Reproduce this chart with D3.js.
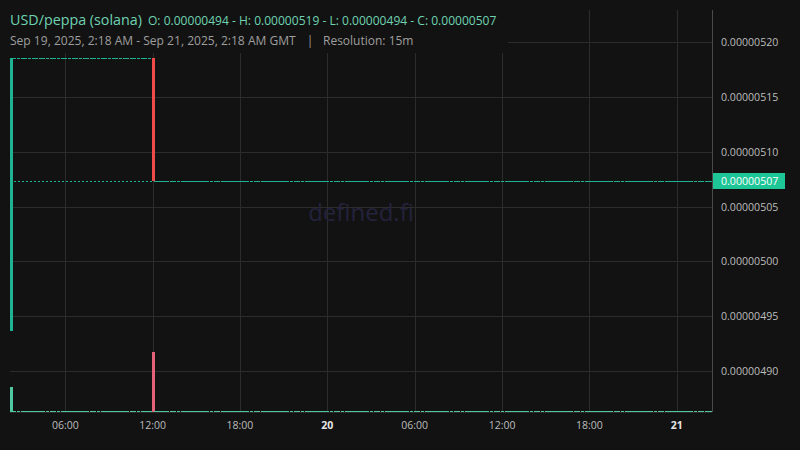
<!DOCTYPE html>
<html>
<head>
<meta charset="utf-8">
<script src="https://cdn.jsdelivr.net/npm/d3@7/dist/d3.min.js"></script>
<style>
  html, body { margin: 0; padding: 0; background: #121212; }
  svg { display: block; }
  text { font-family: "Open Sans", "Noto Sans", sans-serif; }
</style>
</head>
<body>
<svg id="chart" width="800" height="450"></svg>
<script>
// ---------------- DATA ----------------
const pairTitle = "USD/peppa (solana)";
const ohlcLabel = "O: 0.00000494 - H: 0.00000519 - L: 0.00000494 - C: 0.00000507";
const rangeLabel = "Sep 19, 2025, 2:18 AM - Sep 21, 2025, 2:18 AM GMT";
const resolutionLabel = "Resolution: 15m";
const watermark = "defined.fi";

// 15-minute candles starting Sep 19, 2025 02:15 UTC (prices in units of 1e-9 USD)
const candleStart = "2025-09-19T02:15:00Z";
const candleMinutes = 15;

const opens = [
4936.5,5185.4,5185.4,5185.4,5185.4,5185.4,5185.4,5185.4,5185.4,5185.4,
5185.4,5185.4,5185.4,5185.4,5185.4,5185.4,5185.4,5185.4,5185.4,5185.4,
5185.4,5185.4,5185.4,5185.4,5185.4,5185.4,5185.4,5185.4,5185.4,5185.4,
5185.4,5185.4,5185.4,5185.4,5185.4,5185.4,5185.4,5185.4,5185.4,5185.4,
5073.1,5073.1,5073.1,5073.1,5073.1,5073.1,5073.1,5073.1,5073.1,5073.1,
5073.1,5073.1,5073.1,5073.1,5073.1,5073.1,5073.1,5073.1,5073.1,5073.1,
5073.1,5073.1,5073.1,5073.1,5073.1,5073.1,5073.1,5073.1,5073.1,5073.1,
5073.1,5073.1,5073.1,5073.1,5073.1,5073.1,5073.1,5073.1,5073.1,5073.1,
5073.1,5073.1,5073.1,5073.1,5073.1,5073.1,5073.1,5073.1,5073.1,5073.1,
5073.1,5073.1,5073.1,5073.1,5073.1,5073.1,5073.1,5073.1,5073.1,5073.1,
5073.1,5073.1,5073.1,5073.1,5073.1,5073.1,5073.1,5073.1,5073.1,5073.1,
5073.1,5073.1,5073.1,5073.1,5073.1,5073.1,5073.1,5073.1,5073.1,5073.1,
5073.1,5073.1,5073.1,5073.1,5073.1,5073.1,5073.1,5073.1,5073.1,5073.1,
5073.1,5073.1,5073.1,5073.1,5073.1,5073.1,5073.1,5073.1,5073.1,5073.1,
5073.1,5073.1,5073.1,5073.1,5073.1,5073.1,5073.1,5073.1,5073.1,5073.1,
5073.1,5073.1,5073.1,5073.1,5073.1,5073.1,5073.1,5073.1,5073.1,5073.1,
5073.1,5073.1,5073.1,5073.1,5073.1,5073.1,5073.1,5073.1,5073.1,5073.1,
5073.1,5073.1,5073.1,5073.1,5073.1,5073.1,5073.1,5073.1,5073.1,5073.1,
5073.1,5073.1,5073.1,5073.1,5073.1,5073.1,5073.1,5073.1,5073.1,5073.1,
5073.1,5073.1,5073.1
];

const closes = [
5185.4,5185.4,5185.4,5185.4,5185.4,5185.4,5185.4,5185.4,5185.4,5185.4,
5185.4,5185.4,5185.4,5185.4,5185.4,5185.4,5185.4,5185.4,5185.4,5185.4,
5185.4,5185.4,5185.4,5185.4,5185.4,5185.4,5185.4,5185.4,5185.4,5185.4,
5185.4,5185.4,5185.4,5185.4,5185.4,5185.4,5185.4,5185.4,5185.4,5073.1,
5073.1,5073.1,5073.1,5073.1,5073.1,5073.1,5073.1,5073.1,5073.1,5073.1,
5073.1,5073.1,5073.1,5073.1,5073.1,5073.1,5073.1,5073.1,5073.1,5073.1,
5073.1,5073.1,5073.1,5073.1,5073.1,5073.1,5073.1,5073.1,5073.1,5073.1,
5073.1,5073.1,5073.1,5073.1,5073.1,5073.1,5073.1,5073.1,5073.1,5073.1,
5073.1,5073.1,5073.1,5073.1,5073.1,5073.1,5073.1,5073.1,5073.1,5073.1,
5073.1,5073.1,5073.1,5073.1,5073.1,5073.1,5073.1,5073.1,5073.1,5073.1,
5073.1,5073.1,5073.1,5073.1,5073.1,5073.1,5073.1,5073.1,5073.1,5073.1,
5073.1,5073.1,5073.1,5073.1,5073.1,5073.1,5073.1,5073.1,5073.1,5073.1,
5073.1,5073.1,5073.1,5073.1,5073.1,5073.1,5073.1,5073.1,5073.1,5073.1,
5073.1,5073.1,5073.1,5073.1,5073.1,5073.1,5073.1,5073.1,5073.1,5073.1,
5073.1,5073.1,5073.1,5073.1,5073.1,5073.1,5073.1,5073.1,5073.1,5073.1,
5073.1,5073.1,5073.1,5073.1,5073.1,5073.1,5073.1,5073.1,5073.1,5073.1,
5073.1,5073.1,5073.1,5073.1,5073.1,5073.1,5073.1,5073.1,5073.1,5073.1,
5073.1,5073.1,5073.1,5073.1,5073.1,5073.1,5073.1,5073.1,5073.1,5073.1,
5073.1,5073.1,5073.1,5073.1,5073.1,5073.1,5073.1,5073.1,5073.1,5073.1,
5073.1,5073.1,5073.1
];

// traded volume per candle (USD)
const volumes = [
500,14,14,14,14,14,14,14,14,14,
14,14,14,14,14,14,14,14,14,14,
14,14,14,14,14,14,14,14,14,14,
14,14,14,14,14,14,14,14,14,1200,
14,14,14,14,14,14,14,14,14,14,
14,14,14,14,14,14,14,14,14,14,
14,14,14,14,14,14,14,14,14,14,
14,14,14,14,14,14,14,14,14,14,
14,14,14,14,14,14,14,14,14,14,
14,14,14,14,14,14,14,14,14,14,
14,14,14,14,14,14,14,14,14,14,
14,14,14,14,14,14,14,14,14,14,
14,14,14,14,14,14,14,14,14,14,
14,14,14,14,14,14,14,14,14,14,
14,14,14,14,14,14,14,14,14,14,
14,14,14,14,14,14,14,14,14,14,
14,14,14,14,14,14,14,14,14,14,
14,14,14,14,14,14,14,14,14,14,
14,14,14,14,14,14,14,14,14,14,
14,14,14
];

const priceTicks = [4900, 4950, 5000, 5050, 5100, 5150, 5200];
const timeTicks = ["2025-09-19T06:00:00Z","2025-09-19T12:00:00Z","2025-09-19T18:00:00Z","2025-09-20T00:00:00Z",
                   "2025-09-20T06:00:00Z","2025-09-20T12:00:00Z","2025-09-20T18:00:00Z","2025-09-21T00:00:00Z"];
const timeTickLabels = ["06:00","12:00","18:00","20","06:00","12:00","18:00","21"];
const timeTickBold = [false,false,false,true,false,false,false,true];
const viewStart = "2025-09-19T02:12:00Z";
const viewEnd = "2025-09-21T02:25:30Z";

// ---------------- STYLE ----------------
const C = {
  bg: "#121212", grid: "#2c2c2c", axisLine: "#4a4a4a", axisText: "#bdbdbd",
  up: "#1db393", down: "#ef4b4b", volUp: "#4fc8a2", volDown: "#e2627a",
  title: "#6fd3b1", sub: "#9e9e9e", label: "#1ec597", watermark: "#24223c", bold: "#e6e6e6"
};
const pane = { left: 10, right: 712, top: 10, bottom: 412 };

// ---------------- BUILD ----------------
const t0 = new Date(candleStart).getTime();
const candles = closes.map((c, i) => ({
  t: new Date(t0 + i * candleMinutes * 60000),
  o: opens[i], c: c, h: Math.max(opens[i], c), l: Math.min(opens[i], c), v: volumes[i]
}));

const svg = d3.select("#chart");
svg.append("rect").attr("width", 800).attr("height", 450).attr("fill", C.bg);

const x = d3.scaleUtc().domain([new Date(viewStart), new Date(viewEnd)]).range([pane.left, pane.right]);
const y = d3.scaleLinear().domain([4862.6, 5238.6]).range([412, 0]);
const yv = d3.scaleLinear().domain([0, d3.max(volumes)]).range([412, 352]);

const g = svg.append("g").attr("shape-rendering", "crispEdges");

// grid
g.selectAll(".hg").data(priceTicks).join("line")
  .attr("x1", pane.left).attr("x2", pane.right)
  .attr("y1", d => Math.round(y(d)) + 0.5).attr("y2", d => Math.round(y(d)) + 0.5)
  .attr("stroke", C.grid);
g.selectAll(".vg").data(timeTicks).join("line")
  .attr("x1", d => Math.round(x(new Date(d))) + 0.5).attr("x2", d => Math.round(x(new Date(d))) + 0.5)
  .attr("y1", pane.top).attr("y2", pane.bottom)
  .attr("stroke", C.grid);

// bottom border
g.append("line").attr("x1", pane.left).attr("x2", pane.right).attr("y1", pane.bottom + 0.5).attr("y2", pane.bottom + 0.5)
  .attr("stroke", "#2a2a2a");

// watermark
svg.append("text").attr("x", (pane.left + pane.right) / 2).attr("y", (pane.top + pane.bottom) / 2 + 10)
  .attr("text-anchor", "middle").attr("font-size", 24).attr("fill", C.watermark).text(watermark);

// volume bars
g.selectAll(".vol").data(candles).join("rect")
  .attr("x", d => Math.round(x(d.t)) - 1).attr("width", 3)
  .attr("y", d => Math.min(Math.round(yv(d.v)), 411)).attr("height", d => 412 - Math.min(Math.round(yv(d.v)), 411))
  .attr("fill", d => d.c >= d.o ? C.volUp : C.volDown);

// volume last-value line
g.append("line").attr("x1", pane.left).attr("x2", pane.right)
  .attr("y1", 411.5).attr("y2", 411.5)
  .attr("stroke", C.volUp).attr("stroke-dasharray", "2,2");

// candles
const cg = g.append("g");
cg.selectAll(".wick").data(candles).join("rect")
  .attr("x", d => Math.round(x(d.t))).attr("width", 1)
  .attr("y", d => Math.round(y(d.h))).attr("height", d => Math.max(1, Math.round(y(d.l)) - Math.round(y(d.h))))
  .attr("fill", d => d.c >= d.o ? C.up : C.down);
cg.selectAll(".body").data(candles).join("rect")
  .attr("x", d => Math.round(x(d.t)) - 1).attr("width", 3)
  .attr("y", d => Math.round(y(Math.max(d.o, d.c))))
  .attr("height", d => Math.max(1, Math.round(y(Math.min(d.o, d.c))) - Math.round(y(Math.max(d.o, d.c)))))
  .attr("fill", d => d.c >= d.o ? C.up : C.down);

// last price line
const last = candles[candles.length - 1];
const ly = Math.round(y(last.c)) + 0.5;
g.append("line").attr("x1", pane.left).attr("x2", pane.right).attr("y1", ly).attr("y2", ly)
  .attr("stroke", C.up).attr("stroke-dasharray", "2,2");

// right axis border
g.append("line").attr("x1", pane.right + 0.5).attr("x2", pane.right + 0.5).attr("y1", pane.top).attr("y2", pane.bottom)
  .attr("stroke", C.axisLine);

// price axis labels
svg.selectAll(".pl").data(priceTicks).join("text")
  .attr("x", 721).attr("y", d => y(d) + 4)
  .attr("font-size", 10.6).attr("fill", C.axisText)
  .text(d => (d * 1e-9).toFixed(8));

// last price label
svg.append("rect").attr("x", pane.right + 1).attr("y", ly - 8.5).attr("width", 72).attr("height", 16).attr("fill", C.label);
svg.append("text").attr("x", 721).attr("y", ly + 3.5).attr("font-size", 10.6).attr("fill", "#ffffff")
  .text((last.c * 1e-9).toFixed(8));

// time axis labels
svg.selectAll(".tl").data(timeTicks).join("text")
  .attr("x", d => x(new Date(d))).attr("y", 429)
  .attr("text-anchor", "middle").attr("font-size", 10.5)
  .attr("font-weight", (d, i) => timeTickBold[i] ? "bold" : "normal")
  .attr("fill", (d, i) => timeTickBold[i] ? C.bold : C.axisText)
  .text((d, i) => timeTickLabels[i]);

// legend box
svg.append("rect").attr("x", 0).attr("y", 0).attr("width", 508).attr("height", 53).attr("fill", C.bg);
svg.append("text").attr("x", 10).attr("y", 25).attr("font-size", 14.3).attr("fill", C.title).text(pairTitle);
svg.append("text").attr("x", 148).attr("y", 25).attr("font-size", 12.05).attr("fill", C.title).text(ohlcLabel);
svg.append("text").attr("x", 10).attr("y", 45).attr("font-size", 12.05).attr("fill", C.sub).text(rangeLabel);
svg.append("text").attr("x", 310).attr("y", 45).attr("text-anchor", "middle").attr("font-size", 12).attr("fill", C.sub).text("|");
svg.append("text").attr("x", 323).attr("y", 45).attr("font-size", 12).attr("fill", C.sub).text(resolutionLabel);
</script>
</body>
</html>
